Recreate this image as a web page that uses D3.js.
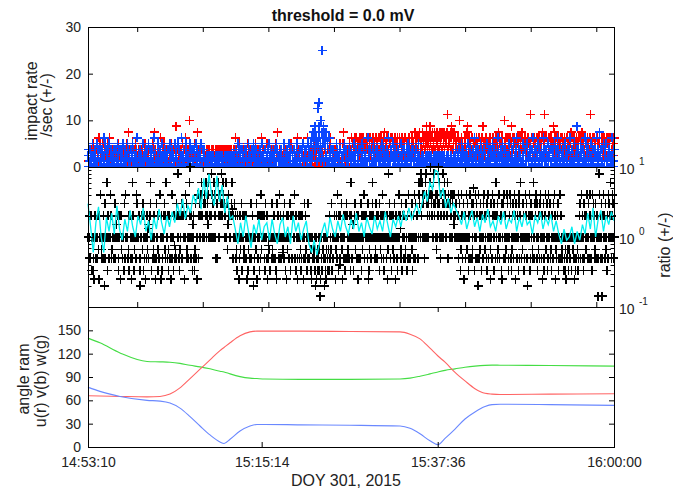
<!DOCTYPE html>
<html>
<head>
<meta charset="utf-8">
<script src="https://cdn.jsdelivr.net/npm/d3@7"></script>
<style>
  body { margin: 0; background: #fff; }
  svg { display: block; }
  text { font-family: "Liberation Sans", Arial, Helvetica, sans-serif; }
</style>
</head>
<body>
<script>
// time axis, seconds of day (14:53:10 .. 16:00:00)
const tStart = 53590, tEnd = 57600
const rateTicks = [53965, 54465, 54965, 55465, 55965, 56465, 56965, 57465]
const angleTicks = [53590, 54914, 56256, 57600]
const rateYTicks = [0, 10, 20, 30]
const angleYTicks = [0, 30, 60, 90, 120, 150]

// impact rates come in steps of 1.25 /sec, one digit = one sample (step count)
const rateStep = 1.25
const redCodes = [
  "2013 3102 1324 0231 2103 3012 1534 0213 3241 1032 2310 4123 3521 1203 0312",
  "3120 2031 1342 0213 3102 2310 1023 4132 6201 3012 2103 1320 4351 2013 3102",
  "1032 3210 2341 0123 1203 3021 2130 4312 6132 2013 3102 1520 0231 3412 2103",
  "0213 1302 3124 2031 0132 1723 3012 2103 1320 4231 3152 2013 1302 8210 3021",
  "2310 4123 1362 3021 2103 0312 1230 213 321 132 312 231 123 321 213 132 231 31",
  "132 213 321 231 312 123 213 132 321 312 231 123 5231 0123 3412 2103 1320 0231",
  "3102 2413 1320 0231 3012 2143 1230 0321 3201 5423 2130 1302 4213 3120 2031",
  "1023 3210 4132 6201 3102 1320 2013 4231 3012 1203 2134 0321 3102 1023 2453",
  "0213 1302 3124 2031 0312 1534 2103 3021 1203 4132 2310 3102 1023 0231 2413",
  "3102 2013 1320 4531 3210 2103 1032 0312 2341 3120 1462 2013 3102 1320 4213",
  "3524 4235 2453 5342 3425 4253 2534 5423 3245 4352 2543 5234 3452 4325 2354",
  "4253 2534 5342 3425 6243 2453 5324 4235 3542 2345 5432 4523 3254 2435 5342",
  "3425 5243 2354 4532 3245 5423 2634 4352 3546 5234 4365 2453 3546 7435 4253",
  "7453 5634 4365 3546 6435 5364 4536 3645 6354 5463 9345 4563 5736 3465 6543",
  "4352 2548 3425 5243 2354 4532 6725 3452 4235 5324 2543 3452 4325 5234 2453",
  "7342 2453 5324 3425 4532 2354 5243 3452 4235 6524 2345 5432 3845 4253 2534",
  "3452 4735 2534 5243 3425 4352 2543 5624 3245 4532 2354 5423 4935 3254 2543",
  "4253 2534 5342 3425 6243 9452 3524 4235 2543 5342 4736 2453 3524 5243 4352",
  "3524 4253 2435 5342 3452 4625 2543 5234 4352 3425 2534 5463 4235 3542 2453",
  "4235 5293 3452 2534 4325 5243 3452 2354 4523 5342 3245 2453 4352 5234 3425"
].join("").replace(/ /g, "")
const blueCodes = [
  "2031 3102 1240 0213 3210 1403 2301 0132 3021 1524 0312 2130 4102 3201 0231",
  "1302 3014 2103 0321 1230 4012 2310 0243 3102 1032 2401 3120 0213 5102 2031",
  "3210 0142 1023 2301 3041 0312 2130 1205 3021 0134 2013 3102 1420 0231 3201",
  "2103 0314 1230 3021 0142 2310 1403 3012 0521 2130 1024 3201 0213 4130 2301",
  "1302 2041 3120 0213 2401 1032 3210 012 201 120 021 210 102 201 012 120 210 02",
  "120 012 201 102 021 210 201 120 012 102 210 021 3102 0243 1230 2013 3201 0132",
  "2310 1042 3021 0132 2403 1230 3102 0213 1320 4021 2103 3012 0231 1402 3120",
  "0321 2130 1043 3201 0213 2310 1024 3102 0132 2041 1230 3021 0312 2103 4120",
  "2031 1302 3240 0123 2310 1402 3021 41523645 27364513 46275341 36254716",
  "4362 5140 3152 2031 0213 3102 1240 0321 2130 3012 1203 0432 2301 1023 3210",
  "1320 0241 2103 3012 1230 0312 2401 3120 0213 1052 2310 3021 0134 2103 1302",
  "3201 0123 2043 1302 3120 0231 2510 1032 3204 0213 1320 2031 3102 0421 2130",
  "0312 2103 1240 3021 0132 2310 1203 3012 0421 201 120 012 210 021 102 120 201",
  "012 210 102 021 201 120 210 012 021 102 120 201 012 102 210 021 201 012 120 210",
  "3102 2031 0124 1320 3201 0213 2140 1032 3021 0312 2503 1230 0321 2104 3120",
  "1203 3021 0412 2130 1302 3240 0231 2103 1052 3012 0321 2413 1230 3102 0214",
  "2301 1032 3140 0213 2510 1302 3021 0124 2103 3210 0432 1023 2301 3150 0213",
  "1320 2041 3102 0231 1253 2013 3120 0412 2301 1032 3204 0123 2150 3021 1302",
  "0213 2104 3021 1230 0315 2103 3012 1402 0273 2130 1024 3201 0312 2514 1320",
  "3102 0241 2130 1302 3025 0213 1260 2031 3104 0132 2410 1203 3021 0152 2103"
].join("").replace(/ /g, "")
// the burst near 15:22
const blueSpikeTimes = [55321, 55343, 55351, 55366, 55374]
const blueSpikeRates = [8.75, 12.5, 13.75, 10, 25]

// ratio (+/-) of counts, one letter = one sample
const ratioLevels = [1/7, 1/5, 1/4, 1/3, 1/2, 2/3, 1, 3/2, 2, 3, 4, 6, 8, 10,   // a..n
                     5, 5/2, 4/3, 3/4, 2/5, 3/5]                                 // o..t
const ratioCodes = [
  "gggie eiigd ggdec iigeg geeif ciggk gfeeg iegbj egglg digeg gkiie fggge",
  "gjeeg hggid egiic ifgge ggdje ekggg gefid iiegc eglig dfgee gkjgg iiedb",
  "eggif jdgie gcgei gfqeh iiljg dggef gigec ejgid fieek gcigd eggij ifelg",
  "geidf iiegc gkegg diref eejig mgeid fgiej eiigg cgkie jfgeg gling eigdh",
  "giedf jeggc gkeig jgikl iigjg kgjil gijhk lgigg imgkj gjlig kieje jlgki",
  "gkijm iijlk jgiig lgjfh kiggg gijlp ieggj giegf diggc egifg jdgie gfeig",
  "eigcg dfgge gjeeg igbdg eggfj cgeig gdiek fgigg iiegd jgeic egrfg dggej",
  "gfeig ieggd cjgie gkegi eegtf giejg dgcig figeg gjdie eiigg gkeid igecg",
  "giegf dieig gcegj eifgd gjegg egdfc dgeef fedgb gcedf edgfa cgedf dfegb",
  "edgcf gedfd iiegf jdgge egigc fgiek gdies eigjf cggie gdiej igefg egidl",
  "giegh dggij fgieg cigeg egjid gfigk eiigg igejc gdfig egilj gigge fjgei",
  "egigd jgfie gkgie diggg egicf mgjig egdig fiegj gcieg edgik giqef jdgie",
  "gigef jgdie kggeg egijf dgiek gjegg iiegl kjlgm ilkjg jkegl mgkji gjkil",
  "lnkji kgjlm ijkgf gkjin jlgek ikgjm gjilk kgijl iekjg jgikg gjkih kigjg",
  "jgiik egjgd fkgie gjcig iegkf jgdie gkiej egfjo idgke gjieb kegif jgdig",
  "egjki fgied jgkeg igcfj gekig djgie lgiej fgkeg iijdc gjeki egifg kjged",
  "gikje dgfij egkig cjgei gdjke ilgeg fjgid egkig jebgi gkdie jgife glegj",
  "ikgej dgfie jgkge icgjd egikf gjdeg kigje fgdig ejgki gcfeg ijgde gkeif",
  "egfgd gedgf cgegf dgefg egdgf gfegc edgge gfdeg igjeg kgied gjeig fikge",
  "gjeik igegd kgjie gfjeg igeag mkgie gjaei kgige jfgdi egkjg ilgei gkjeg"
].join("").replace(/ /g, "")

// running mean of the ratio
const meanRatio = [
  3.0, 1.4, 0.6, 1.6, 2.7, 1.0, 0.6, 1.9, 1.2,
  2.2, 1.1, 2.8, 1.3, 0.9, 1.8, 1.2, 2.4, 1.4, 1.0, 2.0, 1.5, 2.6, 1.2, 1.7, 0.9, 1.9, 1.3, 2.5, 1.6, 1.1, 2.0, 1.4,
  2.3, 1.6, 3.0, 2.0, 3.5, 1.8, 2.8, 2.2, 4.0,
  3.0, 5.0, 2.5, 6.9, 3.5, 8.0, 4.0, 2.8, 7.5, 3.2, 5.5, 2.2, 3.8, 1.8, 2.0,
  1.3, 0.8, 1.6, 1.0, 2.0, 1.2, 0.7, 1.5, 1.1, 1.8, 0.9, 1.4,
  1.6, 0.9, 1.8, 1.1, 0.8, 1.5, 1.9, 1.0, 1.4, 0.8, 2.0, 1.2, 1.6, 0.9, 1.3, 1.7, 0.8,
  0.6, 0.9, 0.55, 0.8, 1.2, 1.6, 1.0, 1.9, 1.3, 1.0, 1.7, 1.2, 2.1, 1.4, 1.1, 1.8, 1.3, 2.2, 1.2, 1.6,
  1.0, 1.9, 1.4, 1.1, 2.0, 1.3, 1.7, 1.2, 2.3, 1.5, 1.0, 1.8, 1.4,
  2.0, 1.4, 2.4, 1.7, 2.6, 1.8, 2.3, 2.9, 2.1,
  3.0, 4.5, 3.2, 6.0, 4.8, 9.0, 8.5,
  3.6, 5.0, 2.6, 3.6, 2.2, 3.0, 2.4,
  2.0, 1.5, 2.3, 1.3, 1.8, 2.4, 1.4, 1.9, 1.2, 2.1, 1.6, 2.5, 1.4, 1.7, 1.2, 2.0, 1.5, 2.3, 1.3, 1.8,
  1.6, 2.4, 1.2, 1.9, 1.4, 2.2, 1.5, 1.7, 1.1, 2.0, 1.6, 2.3, 1.3, 1.9, 1.5, 2.1, 1.2, 1.7,
  1.1, 0.8, 1.3, 0.9, 1.0, 1.4, 0.8, 1.2, 0.9,
  1.5, 1.1, 2.2, 1.3, 2.6, 1.0, 1.8, 2.4, 1.2, 2.0, 1.5, 2.3, 1.7
]

// ram angles (deg)
const angleTimes = [53590, 53681, 53834, 54040, 54139, 54215, 54291, 54368, 54444, 54520, 54596,
  54627, 54673, 54749, 54825, 54878, 54939, 55206, 55587, 55969, 56045, 56121, 56197, 56258,
  56312, 56388, 56464, 56540, 56617, 56670, 56731, 57112, 57600]
const angleU = [66, 65.5, 65, 64.5, 65, 68, 76, 88, 100, 112, 124, 128, 134, 143, 148, 149, 149,
  149, 148.5, 148, 145, 139, 127, 117, 109, 96, 85, 75, 69, 68, 67.5, 68, 68.5]
const angleV = [77, 71.5, 65, 60, 59, 56.5, 50, 39, 27, 15.5, 6.5, 4.5, 10, 20.5, 27, 29, 29,
  28.5, 28, 27, 24, 17, 8, 3, 11, 23, 36, 45, 52, 54.5, 55, 54.5, 53.5]
const angleW = [140, 134, 121, 110, 109.5, 109, 107.5, 105, 103, 100.5, 97.5, 96.5, 94, 90.5,
  88.5, 88, 87.5, 87, 87, 87.5, 88.5, 91, 94, 96.5, 98.5, 100.5, 102.5, 104, 105, 105.3, 105.2,
  104.8, 104]

const svg = d3.select("body").append("svg")
    .attr("width", 673)
    .attr("height", 493)

const x = d3.scaleLinear().domain([tStart, tEnd]).range([88, 614])
const yRate = d3.scaleLinear().domain([0, 30]).range([167, 27])
const yRatio = d3.scaleLog().domain([0.1, 10]).range([307, 167])
const yAngle = d3.scaleLinear().domain([0, 180]).range([447, 307])

function plus(px, py, r) {
    return "M" + (px - r) + "," + py + "h" + (2 * r) + "M" + px + "," + (py - r) + "v" + (2 * r)
}

// spread a code string evenly over the time span
function samples(codes, toValue) {
    let dt = (tEnd - tStart) / (codes.length - 1)
    return Array.from(codes, (c, i) => ({t: tStart + i * dt, v: toValue(c)}))
}

function hms(s) {
    let p = d3.format("02d")
    return p(Math.floor(s / 3600)) + ":" + p(Math.floor(s % 3600 / 60)) + ":" + p(s % 60)
}

// ---- top panel: impact rates
svg.append("clipPath").attr("id", "clipRate")
    .append("rect").attr("x", 0).attr("y", 0).attr("width", 673).attr("height", 167)

let rateLayer = svg.append("g").attr("clip-path", "url(#clipRate)")
let redPts = samples(redCodes, c => +c * rateStep)
let bluePts = samples(blueCodes, c => +c * rateStep)
        .concat(blueSpikeTimes.map((t, i) => ({t: t, v: blueSpikeRates[i]})))

rateLayer.append("g").selectAll("path")
    .data(redPts)
    .join("path")
    .attr("d", d => plus(x(d.t), yRate(d.v), 4.5))
    .attr("stroke", "#ff0000")
    .attr("stroke-width", 1.4)
    .attr("shape-rendering", "crispEdges")
    .attr("fill", "none")

rateLayer.append("g").selectAll("path")
    .data(bluePts)
    .join("path")
    .attr("d", d => plus(x(d.t), yRate(d.v), 4.5))
    .attr("stroke", "#0a46ff")
    .attr("stroke-width", 1.6)
    .attr("shape-rendering", "crispEdges")
    .attr("fill", "none")

// ---- middle panel: ratio
let ratioPts = samples(ratioCodes, c => ratioLevels[c.charCodeAt(0) - 97])

svg.append("g").selectAll("path")
    .data(ratioPts)
    .join("path")
    .attr("d", d => plus(x(d.t), yRatio(d.v), 4.5))
    .attr("stroke", "#000")
    .attr("stroke-width", 1.5)
    .attr("shape-rendering", "crispEdges")
    .attr("fill", "none")

let meanDt = (tEnd - tStart) / (meanRatio.length - 1)
svg.append("path")
    .datum(meanRatio)
    .attr("d", d3.line().x((d, i) => x(tStart + i * meanDt)).y(d => yRatio(d)))
    .attr("stroke", "#00f0f0")
    .attr("stroke-width", 1.3)
    .attr("fill", "none")

// ---- bottom panel: angles
let angleLine = d3.line()
    .x((d, i) => x(angleTimes[i]))
    .y(d => yAngle(d))
    .curve(d3.curveMonotoneX)

for (let [vals, col] of [[angleW, "#44dd44"], [angleU, "#ff6363"], [angleV, "#6a88ff"]]) {
    svg.append("path")
        .datum(vals)
        .attr("d", angleLine)
        .attr("stroke", col)
        .attr("stroke-width", 1.1)
        .attr("fill", "none")
}

// ---- axes
function styleAxis(g) {
    g.select(".domain").remove()
    g.attr("color", "#222").attr("font-size", 14)
        .attr("font-family", '"Liberation Sans", Arial, Helvetica, sans-serif')
    g.selectAll("line").attr("stroke", "#000")
}

let axes = svg.append("g")

// top panel
axes.append("g").attr("transform", "translate(88,0)")
    .call(d3.axisLeft(yRate).tickValues(rateYTicks).tickSize(-5).tickPadding(7)).call(styleAxis)
axes.append("g").attr("transform", "translate(614,0)")
    .call(d3.axisRight(yRate).tickValues([10, 20]).tickSize(-5).tickFormat("")).call(styleAxis)
axes.append("g").attr("transform", "translate(0,27)")
    .call(d3.axisTop(x).tickValues(rateTicks).tickSize(-5).tickFormat("")).call(styleAxis)

// middle panel
axes.append("g").attr("transform", "translate(0,167)")
    .call(d3.axisTop(x).tickValues(rateTicks).tickSize(-5).tickFormat("")).call(styleAxis)
axes.append("g").attr("transform", "translate(0,307)")
    .call(d3.axisBottom(x).tickValues(rateTicks).tickSize(-5).tickFormat("")).call(styleAxis)

let logTicks = yRatio.ticks()
let isMajor = v => Math.abs(Math.log10(v) - Math.round(Math.log10(v))) < 1e-6
axes.append("g").selectAll("line")
    .data(logTicks.flatMap(v => [{v: v, side: 88, dir: 1}, {v: v, side: 614, dir: -1}]))
    .join("line")
    .attr("x1", d => d.side)
    .attr("x2", d => d.side + d.dir * (isMajor(d.v) ? 6 : 3.5))
    .attr("y1", d => Math.round(yRatio(d.v)) + 0.5)
    .attr("y2", d => Math.round(yRatio(d.v)) + 0.5)
    .attr("stroke", "#000")

let majors = logTicks.filter(isMajor)
axes.append("g").selectAll("text")
    .data(majors)
    .join("text")
    .attr("x", 619)
    .attr("y", d => yRatio(d) + 7)
    .attr("font-size", 14)
    .attr("fill", "#222")
    .text("10")
axes.append("g").selectAll("text")
    .data(majors)
    .join("text")
    .attr("x", 639)
    .attr("y", d => yRatio(d) - 2)
    .attr("font-size", 10)
    .attr("fill", "#222")
    .text(d => Math.round(Math.log10(d)))

// bottom panel
axes.append("g").attr("transform", "translate(88,0)")
    .call(d3.axisLeft(yAngle).tickValues(angleYTicks).tickSize(-5).tickPadding(7)).call(styleAxis)
axes.append("g").attr("transform", "translate(614,0)")
    .call(d3.axisRight(yAngle).tickValues(angleYTicks.slice(1)).tickSize(-5).tickFormat("")).call(styleAxis)
axes.append("g").attr("transform", "translate(0,307)")
    .call(d3.axisTop(x).tickValues(angleTicks).tickSize(-5).tickFormat("")).call(styleAxis)
axes.append("g").attr("transform", "translate(0,447)")
    .call(d3.axisBottom(x).tickValues(angleTicks).tickSize(-5).tickPadding(10).tickFormat(hms)).call(styleAxis)

// panel frames
for (let [y0, y1] of [[27, 167], [167, 307], [307, 447]]) {
    axes.append("rect")
        .attr("x", 88.5).attr("y", y0 + 0.5)
        .attr("width", 526).attr("height", y1 - y0)
        .attr("fill", "none")
        .attr("stroke", "#000")
}

// ---- labels
svg.append("text")
    .attr("x", 343).attr("y", 21)
    .attr("text-anchor", "middle")
    .attr("font-size", 16).attr("font-weight", "bold")
    .attr("fill", "#111")
    .text("threshold = 0.0 mV")

svg.append("text")
    .attr("x", 346).attr("y", 486)
    .attr("text-anchor", "middle")
    .attr("font-size", 16)
    .attr("fill", "#222")
    .text("DOY 301, 2015")

let yLabels = [
    ["impact rate", 37, 101], ["/sec (+/-)", 52, 105],
    ["angle ram", 29, 379], ["u(r) v(b) w(g)", 46, 381],
    ["ratio (+/-)", 670, 245]
]
svg.append("g").selectAll("text")
    .data(yLabels)
    .join("text")
    .attr("transform", d => "translate(" + d[1] + "," + d[2] + ") rotate(-90)")
    .attr("text-anchor", "middle")
    .attr("font-size", 16)
    .attr("fill", "#222")
    .text(d => d[0])
</script>
</body>
</html>
